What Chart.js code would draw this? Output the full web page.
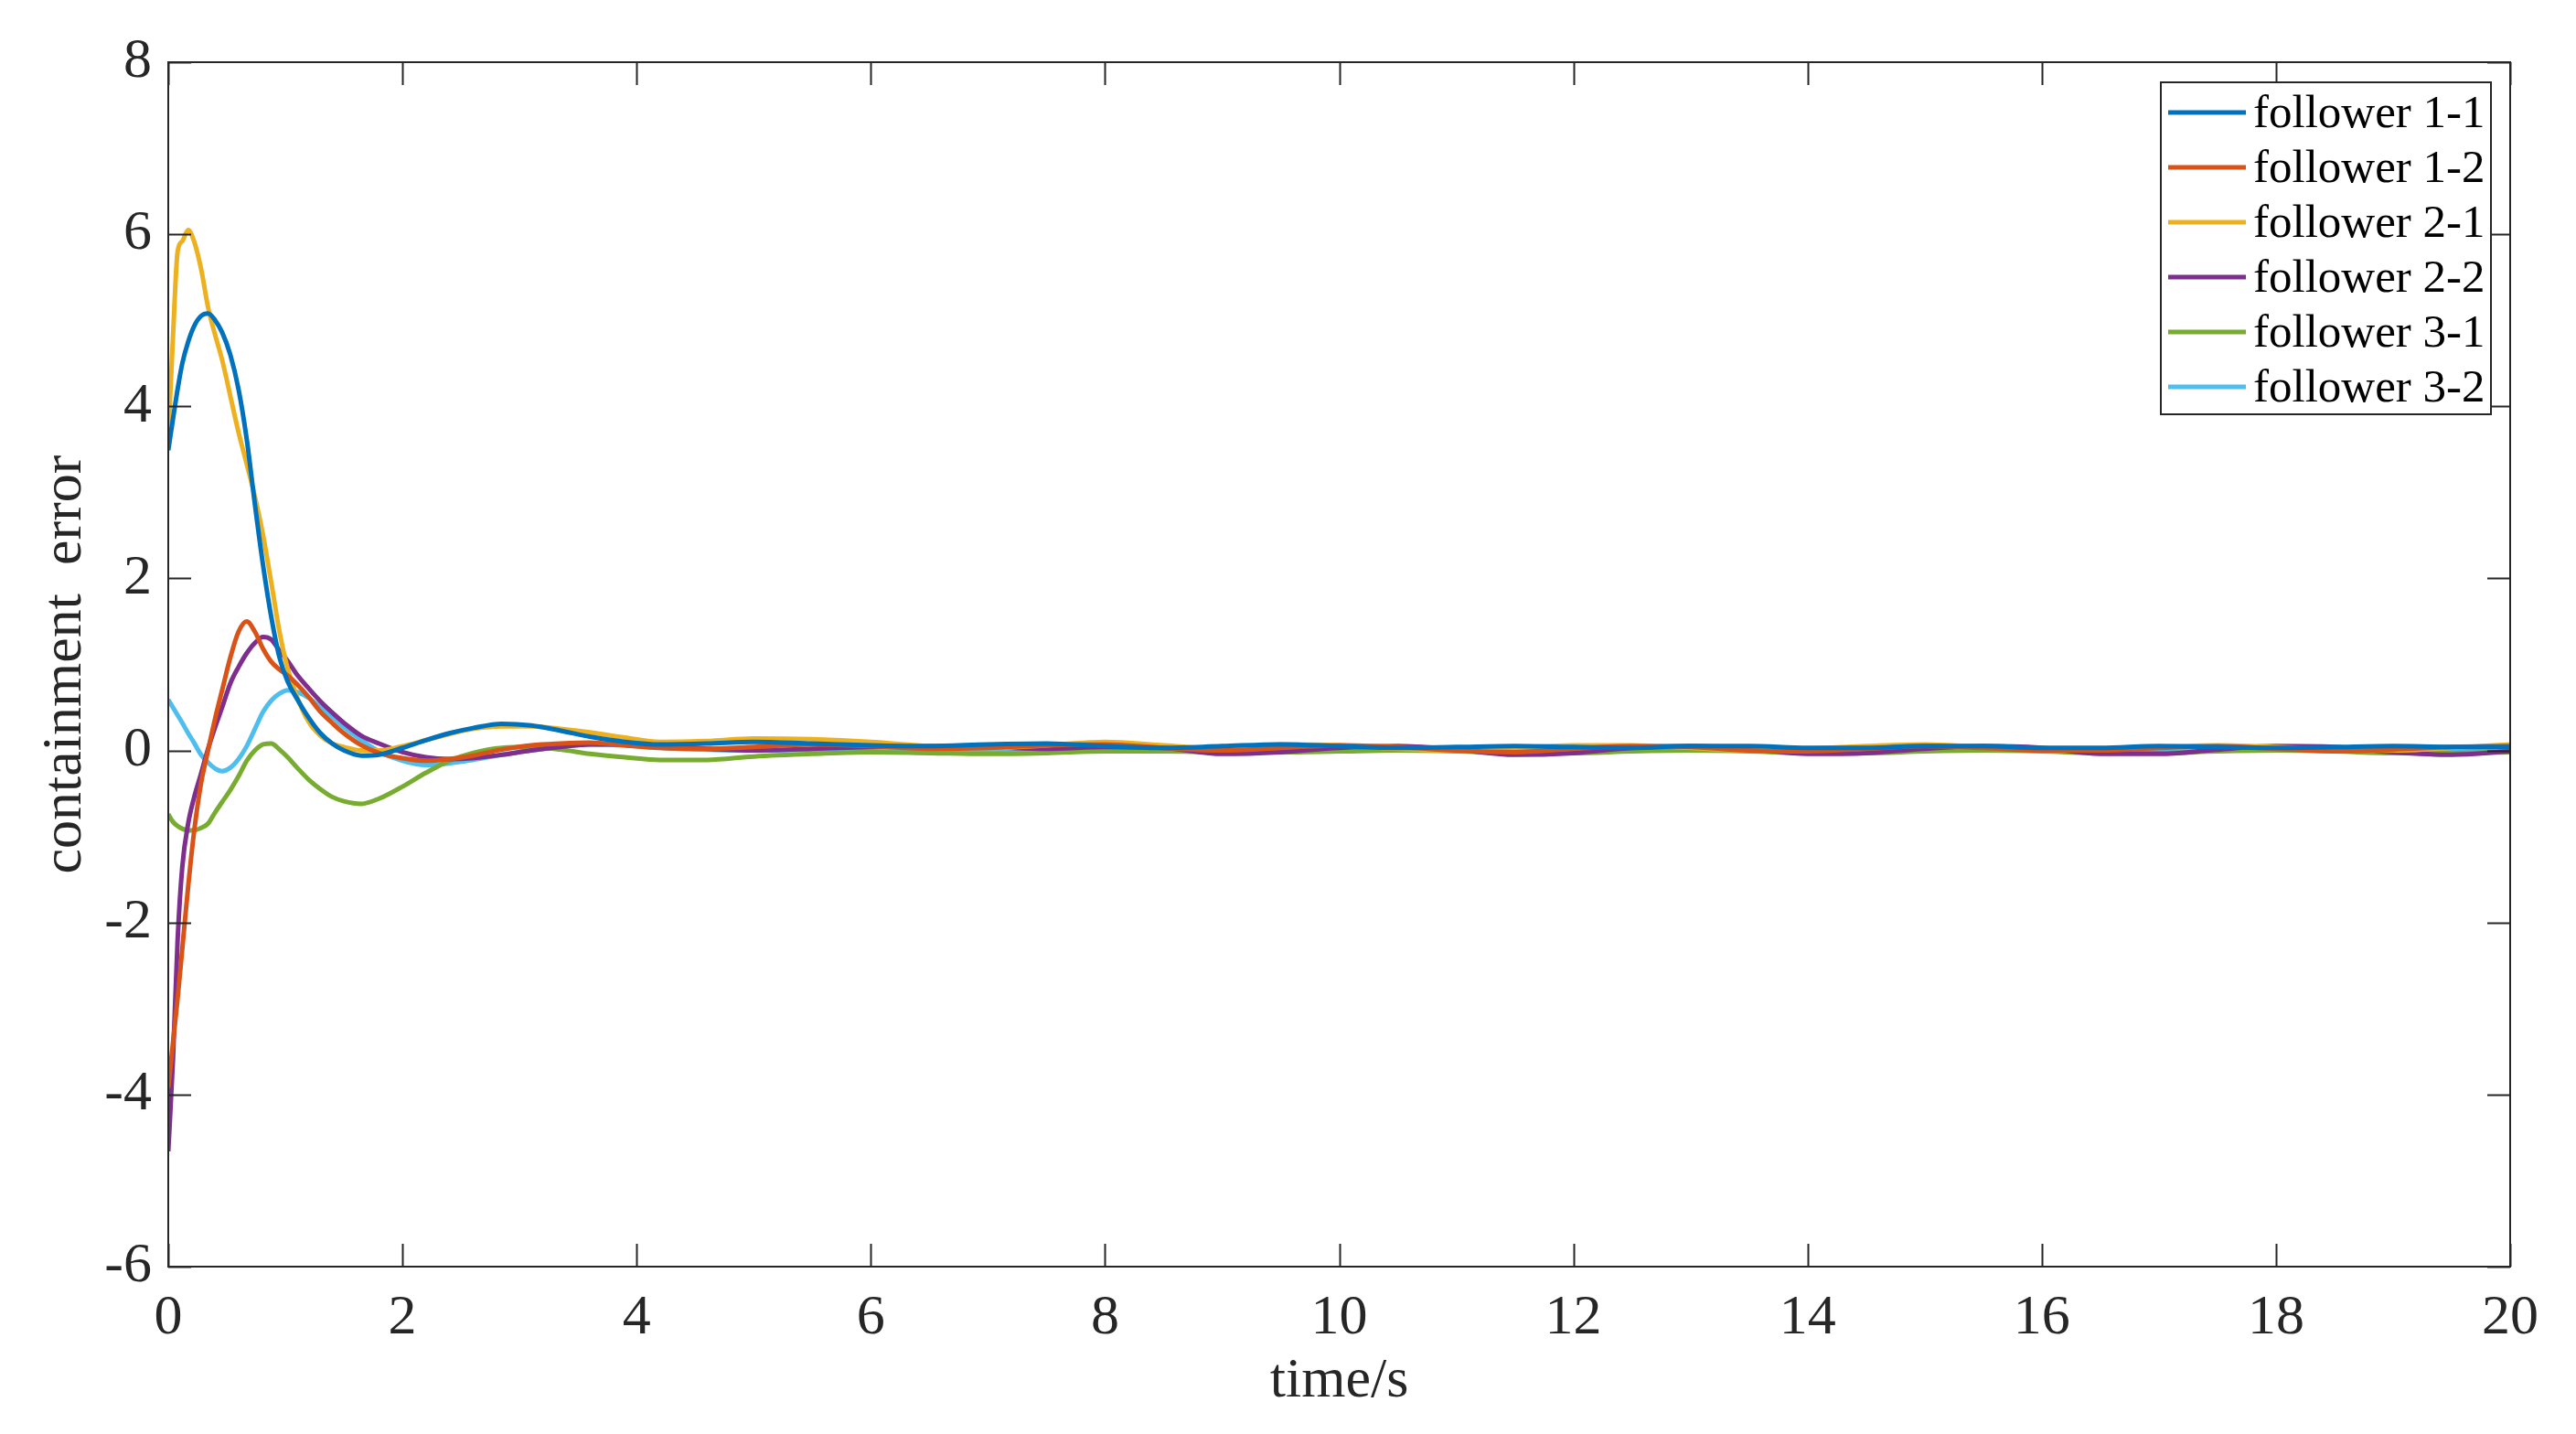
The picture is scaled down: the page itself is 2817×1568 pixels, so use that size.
<!DOCTYPE html>
<html>
<head>
<meta charset="utf-8">
<script src="https://cdn.jsdelivr.net/npm/chart.js@4"></script>
<style>
html,body{margin:0;padding:0;background:#fff;}
#wrap{width:2817px;height:1568px;}
</style>
</head>
<body>
<div id="wrap"><canvas id="c" width="2817" height="1568"></canvas></div>
<script>
const times = [0,0.04,0.08,0.12,0.17,0.22,0.28,0.34,0.4,0.46,0.53,0.6,0.67,0.74,0.81,0.88,0.95,1.02,1.1,1.2,1.3,1.4,1.5,1.65,1.8,2.0,2.2,2.4,2.6,2.85,3.1,3.35,3.6,3.9,4.2,4.6,
  5,5.5,6,6.5,7,7.5,8,8.5,9,9.5,10,10.5,11,11.5,12,12.5,13,13.5,14,14.5,15,15.5,16,16.5,17,17.5,18,18.5,19,19.5,20];

const follower11 = [3.49,3.85,4.2,4.5,4.75,4.93,5.05,5.08,5.0,4.86,4.6,4.2,3.62,2.86,2.15,1.55,1.08,0.8,0.6,0.38,0.2,0.08,0.0,-0.06,-0.05,0.03,0.12,0.2,0.26,0.31,0.29,0.23,0.16,0.1,0.07,0.08,
  0.1,0.08,0.06,0.05,0.07,0.08,0.05,0.03,0.05,0.07,0.05,0.03,0.04,0.05,0.04,0.03,0.05,0.05,0.03,0.03,0.05,0.05,0.03,0.03,0.05,0.04,0.03,0.04,0.05,0.04,0.04];
const follower12 = [-3.92,-3.4,-2.88,-2.3,-1.58,-0.95,-0.38,0.0,0.37,0.7,1.08,1.38,1.5,1.38,1.18,1.03,0.94,0.87,0.77,0.62,0.45,0.32,0.2,0.06,-0.03,-0.09,-0.12,-0.1,-0.06,0.01,0.06,0.08,0.09,0.06,0.03,0.02,
  0.04,0.07,0.05,0.02,0.03,0.06,0.07,0.03,0.0,0.03,0.06,0.04,0.0,-0.02,0.02,0.05,0.04,0.0,-0.01,0.02,0.05,0.03,0.0,0.0,0.03,0.05,0.02,-0.01,0.01,0.04,0.05];
const follower21 = [3.62,4.8,5.8,5.92,6.05,5.92,5.6,5.15,4.83,4.54,4.12,3.7,3.33,2.95,2.5,1.95,1.38,0.95,0.62,0.33,0.17,0.08,0.04,0.0,0.0,0.05,0.12,0.19,0.25,0.28,0.28,0.25,0.21,0.15,0.1,0.11,
  0.14,0.13,0.1,0.05,0.03,0.06,0.1,0.06,0.02,0.07,0.06,0.02,0.0,0.03,0.06,0.06,0.03,0.0,0.02,0.05,0.07,0.04,0.01,0.01,0.04,0.06,0.04,0.01,0.0,0.03,0.07];
const follower22 = [-4.66,-3.6,-2.2,-1.35,-0.85,-0.55,-0.27,0.02,0.27,0.5,0.78,0.97,1.13,1.25,1.32,1.29,1.16,1.04,0.88,0.72,0.57,0.44,0.32,0.17,0.08,-0.02,-0.08,-0.1,-0.09,-0.05,0.0,0.04,0.07,0.07,0.05,0.02,
  0.0,0.02,0.04,0.05,0.04,0.02,0.04,0.03,-0.04,-0.02,0.03,0.05,0.01,-0.05,-0.03,0.03,0.05,0.02,-0.04,-0.03,0.02,0.05,0.03,-0.04,-0.04,0.01,0.05,0.04,-0.02,-0.05,-0.01];
const follower31 = [-0.74,-0.83,-0.88,-0.91,-0.93,-0.93,-0.9,-0.85,-0.72,-0.6,-0.46,-0.3,-0.12,0.0,0.07,0.08,0.01,-0.08,-0.2,-0.34,-0.45,-0.54,-0.59,-0.62,-0.56,-0.42,-0.26,-0.12,-0.03,0.03,0.04,0.01,-0.04,-0.08,-0.11,-0.11,
  -0.07,-0.04,-0.02,-0.03,-0.04,-0.03,-0.01,-0.01,-0.02,-0.02,-0.01,0.0,-0.01,-0.03,-0.03,-0.01,0.0,-0.01,-0.03,-0.03,-0.01,0.0,-0.01,-0.03,-0.03,-0.01,0.0,-0.01,-0.03,-0.03,-0.02];
const follower32 = [0.59,0.5,0.41,0.32,0.2,0.09,-0.05,-0.14,-0.21,-0.24,-0.2,-0.1,0.05,0.25,0.45,0.58,0.66,0.7,0.68,0.61,0.5,0.39,0.27,0.12,-0.01,-0.12,-0.17,-0.15,-0.11,-0.05,0.0,0.04,0.07,0.06,0.03,0.01,
  0.0,0.01,0.02,0.0,-0.01,0.0,0.01,0.01,0.0,-0.01,0.0,0.01,0.01,0.0,-0.01,0.0,0.01,0.01,0.0,-0.01,0.0,0.01,0.01,0.0,-0.01,0.0,0.01,0.01,0.0,-0.01,0.0];

const seriesLabels = ['follower 1-1','follower 1-2','follower 2-1','follower 2-2','follower 3-1','follower 3-2'];
const seriesValues = [follower11, follower12, follower21, follower22, follower31, follower32];
const seriesColors = ['#0072BD','#D95319','#EDB120','#7E2F8E','#77AC30','#4DBEEE'];
const xTicks = [0,2,4,6,8,10,12,14,16,18,20];
const yTicks = [-6,-4,-2,0,2,4,6,8];
const xTitle = 'time/s';
const yTitle = 'containment  error';

const FONT = '"Liberation Serif","Times New Roman",serif';
const AXC = '#262626';

const datasets = seriesValues.map((vals, i) => ({
  label: seriesLabels[i],
  data: vals.map((v, k) => ({x: times[k], y: v})),
  borderColor: seriesColors[i],
  backgroundColor: seriesColors[i],
  borderWidth: 5,
  pointRadius: 0,
  cubicInterpolationMode: 'monotone',
  fill: false
}));

const boxPlugin = {
  id: 'boxPlugin',
  afterDraw(chart) {
    const {ctx, chartArea: a, scales} = chart;
    ctx.save();
    ctx.strokeStyle = AXC;
    ctx.lineWidth = 2;
    ctx.strokeRect(a.left, a.top, a.right - a.left, a.bottom - a.top);
    const L = 25;
    ctx.beginPath();
    xTicks.forEach(v => {
      const px = Math.round(scales.x.getPixelForValue(v)) + 0.5;
      ctx.moveTo(px, a.bottom); ctx.lineTo(px, a.bottom - L);
      ctx.moveTo(px, a.top); ctx.lineTo(px, a.top + L);
    });
    yTicks.forEach(v => {
      const py = Math.round(scales.y.getPixelForValue(v)) + 0.5;
      ctx.moveTo(a.left, py); ctx.lineTo(a.left + L, py);
      ctx.moveTo(a.right, py); ctx.lineTo(a.right - L, py);
    });
    ctx.stroke();

    // legend box
    const lx = 2363, ly = 90, lw = 361, lh = 363;
    ctx.fillStyle = '#fff';
    ctx.fillRect(lx, ly, lw, lh);
    ctx.lineWidth = 2;
    ctx.strokeStyle = AXC;
    ctx.strokeRect(lx, ly, lw, lh);
    ctx.font = '51px ' + FONT;
    ctx.textBaseline = 'middle';
    ctx.textAlign = 'left';
    chart.data.datasets.forEach((ds, i) => {
      const cy = ly + 33 + i * 60;
      ctx.strokeStyle = ds.borderColor;
      ctx.lineWidth = 5;
      ctx.beginPath();
      ctx.moveTo(lx + 8, cy); ctx.lineTo(lx + 93, cy);
      ctx.stroke();
      ctx.fillStyle = '#000';
      ctx.fillText(ds.label, lx + 101, cy + 3);
    });
    ctx.restore();
  }
};

new Chart(document.getElementById('c'), {
  type: 'line',
  data: {datasets},
  options: {
    responsive: false,
    animation: false,
    devicePixelRatio: 1,
    layout: {padding: {left: 0, top: 68, right: 72, bottom: 0}},
    plugins: {legend: {display: false}, tooltip: {enabled: false}},
    scales: {
      x: {
        type: 'linear', min: 0, max: 20,
        afterFit(s) { s.height = 183; },
        afterBuildTicks(s) { s.ticks = xTicks.map(v => ({value: v})); },
        grid: {display: false, drawTicks: false},
        border: {display: false},
        ticks: {font: {family: FONT, size: 62}, color: '#262626', padding: 20, maxRotation: 0, autoSkip: false},
        title: {display: true, text: xTitle, font: {family: FONT, size: 62}, color: '#262626', padding: {top: 0, bottom: 20}}
      },
      y: {
        type: 'linear', min: -6, max: 8,
        afterFit(s) { s.width = 184; },
        afterBuildTicks(s) { s.ticks = yTicks.map(v => ({value: v})); },
        grid: {display: false, drawTicks: false},
        border: {display: false},
        ticks: {font: {family: FONT, size: 62}, color: '#262626', padding: 18, autoSkip: false},
        title: {display: true, text: yTitle, font: {family: FONT, size: 62}, color: '#262626', padding: {top: 35, bottom: 0}}
      }
    }
  },
  plugins: [boxPlugin]
});
</script>
</body>
</html>
